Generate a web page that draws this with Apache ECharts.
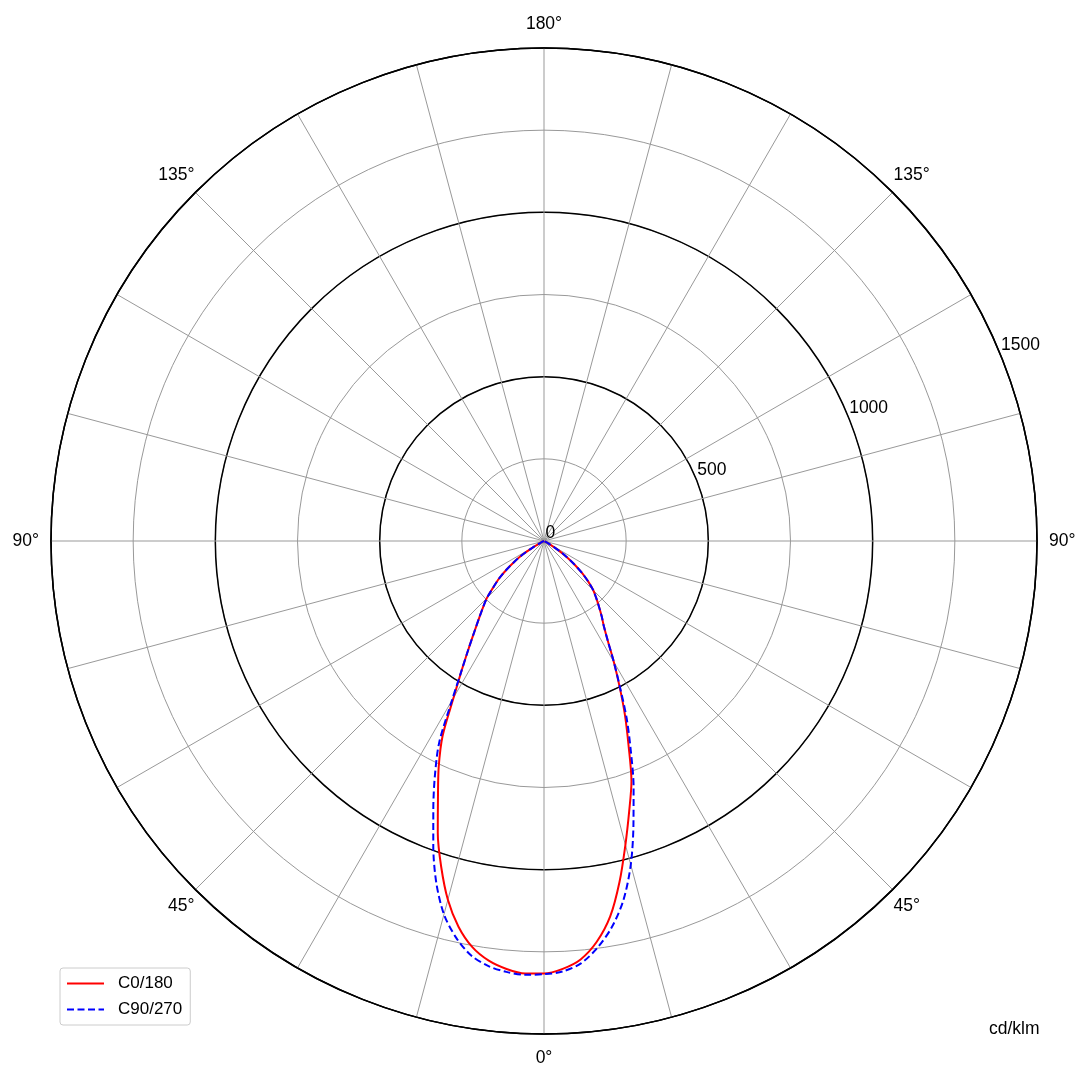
<!DOCTYPE html>
<html>
<head>
<meta charset="utf-8">
<script src="https://cdn.jsdelivr.net/npm/echarts@6/dist/echarts.min.js"></script>
<style>
html,body{margin:0;padding:0;background:#fff;}
#chart{width:1089px;height:1080px;}
</style>
</head>
<body>
<div id="chart"></div>
<script>
// gamma angles (degrees from nadir)
const gammaAngles = [0,2.5,5,7.5,10,12.5,15,17.5,20,22.5,25,27.5,30,32.5,35,37.5,40,42.5,45,47.5,50,52.5,55,57.5,60,62.5,65,67.5,70,72.5,75,77.5,80,82.5,85,87.5,90];
// C0/180 plane (cd/klm)
const c0Values   = [1316,1303,1278,1230,1160,1062,957,862,778,672,582,497,425,362,318,288,260,235,212,182,150,115,82,50,22,8,2,0,0,0,0,0,0,0,0,0,0];
const c180Values = [1316,1317,1307,1288,1255,1202,1130,1040,945,843,758,668,550,466,400,348,308,275,246,210,180,145,110,78,40,12,3,0,0,0,0,0,0,0,0,0,0];
// C90/270 plane (cd/klm)
const c90Values  = [1318,1311,1290,1248,1192,1118,1020,905,797,690,595,500,425,362,318,288,260,235,212,182,150,115,82,50,22,8,2,0,0,0,0,0,0,0,0,0,0];
const c270Values = [1318,1321,1316,1304,1280,1236,1176,1090,985,880,785,690,560,466,400,348,308,275,246,210,180,145,110,78,40,12,3,0,0,0,0,0,0,0,0,0,0];
// radius tick labels
const radiusLabels = [0, 500, 1000, 1500];
const radiusLabelAngle = 247.5; // 22.5° above the right horizontal
const seriesNames = ['C0/180', 'C90/270'];
const unitLabel = 'cd/klm';

function buildCurve(leftVals, rightVals) {
  const pts = [];
  for (let i = gammaAngles.length - 1; i >= 0; i--) pts.push([leftVals[i], gammaAngles[i]]);
  for (let i = 1; i < gammaAngles.length; i++) pts.push([rightVals[i], 360 - gammaAngles[i]]);
  return pts;
}

const FONT = 'Liberation Sans, Arial, sans-serif';
const FS = 17.5;
const chart = echarts.init(document.getElementById('chart'), null, {renderer: 'canvas'});
const option = {
  backgroundColor: '#fff',
  animation: false,
  textStyle: {fontFamily: FONT},
  title: {
    text: unitLabel, left: 984, top: 1015,
    textStyle: {fontSize: FS, fontWeight: 'normal', color: '#000', fontFamily: FONT}
  },
  legend: {
    orient: 'vertical', left: 60, top: 968,
    data: seriesNames,
    itemWidth: 37, itemHeight: 12, itemGap: 9,
    padding: [7, 8, 7, 6],
    borderColor: '#ccc', borderWidth: 1, borderRadius: 3,
    itemStyle: {opacity: 0},
    textStyle: {fontSize: 17, color: '#000', fontFamily: FONT, padding: [0, 0, 0, 9]}
  },
  polar: [
    {center: [544, 541], radius: 493},
    {center: [544, 541], radius: 493}
  ],
  angleAxis: [
    {
      polarIndex: 0, type: 'value', min: 0, max: 360, interval: 15,
      startAngle: 270, clockwise: true,
      axisLine: {show: true, lineStyle: {color: '#000', width: 1.5}},
      axisTick: {show: false},
      splitLine: {show: true, lineStyle: {color: '#999', width: 1}},
      axisLabel: {
        show: true, margin: 0, color: '#000', fontFamily: FONT, fontSize: FS,
        formatter: function (v) {
          if (v % 45 !== 0 || v === 360) return '';
          const d = (v <= 180 ? v : 360 - v) + '°';
          if (v === 0 || v === 180) return '{vt|' + d + '}';
          if (v === 90 || v === 270) return '{sd|' + d + '}';
          return '{dg|' + d + '}';
        },
        rich: {
          vt: {fontSize: FS, color: '#000', fontFamily: FONT, padding: [15, 0, 15, 0]},
          sd: {fontSize: FS, color: '#000', fontFamily: FONT, padding: [0, 12, 0, 12]},
          dg: {fontSize: FS, color: '#000', fontFamily: FONT, padding: [8, 1, 8, 1]}
        }
      }
    },
    {
      polarIndex: 1, type: 'value', min: 0, max: 360, startAngle: 270,
      axisLine: {show: false}, axisTick: {show: false},
      splitLine: {show: false}, axisLabel: {show: false}
    }
  ],
  radiusAxis: [
    {
      polarIndex: 0, type: 'value', min: 0, max: 1500, interval: 250,
      axisLine: {show: false}, axisTick: {show: false}, axisLabel: {show: false},
      splitLine: {show: true, lineStyle: {color: '#999', width: 1}}
    },
    {
      polarIndex: 1, type: 'value', min: 0, max: 1500, interval: 500,
      axisLine: {show: false}, axisTick: {show: false}, axisLabel: {show: false},
      splitLine: {show: true, lineStyle: {color: '#000', width: 1.5}}
    }
  ],
  series: [
    {
      name: seriesNames[0], type: 'line', coordinateSystem: 'polar', polarIndex: 0,
      data: buildCurve(c180Values, c0Values),
      symbol: 'none', smooth: 0.3, z: 5,
      lineStyle: {color: '#ff0000', width: 2},
      itemStyle: {color: '#ff0000'}
    },
    {
      name: seriesNames[1], type: 'line', coordinateSystem: 'polar', polarIndex: 0,
      data: buildCurve(c270Values, c90Values),
      symbol: 'none', smooth: 0.3, z: 6,
      lineStyle: {color: '#0000ff', width: 2, type: [7, 3.5]},
      itemStyle: {color: '#0000ff'}
    },
    {
      type: 'scatter', coordinateSystem: 'polar', polarIndex: 0,
      data: radiusLabels.map(function (r) { return [r, radiusLabelAngle]; }),
      symbolSize: 1, itemStyle: {color: 'rgba(255,255,255,0)', opacity: 1},
      silent: true, z: 7,
      label: {
        show: true, position: [2, 2], align: 'left', verticalAlign: 'bottom',
        fontSize: FS, color: '#000', fontFamily: FONT, textBorderWidth: 0,
        formatter: function (p) { return String(p.value[0]); }
      }
    }
  ]
};
chart.setOption(option);
</script>
</body>
</html>
